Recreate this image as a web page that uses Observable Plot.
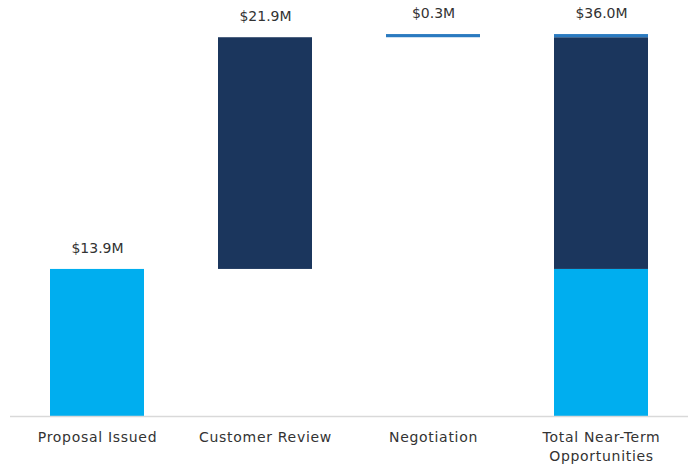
<!DOCTYPE html>
<html>
<head>
<meta charset="utf-8">
<script src="https://cdn.jsdelivr.net/npm/d3@7"></script>
<script src="https://cdn.jsdelivr.net/npm/@observablehq/plot@0.6"></script>
<style>
  html, body { margin: 0; padding: 0; background: #fff; }
  #chart { width: 688px; height: 468px; }
  #chart g[aria-label="x-axis tick label"] text { letter-spacing: 0.7px; }
</style>
</head>
<body>
<div id="chart"></div>
<script>
const categories = ["Proposal Issued", "Customer Review", "Negotiation", "Total Near-Term Opportunities"];
const tickLabels = ["Proposal Issued", "Customer Review", "Negotiation", "Total Near-Term\nOpportunities"];
const stageValues = [13.9, 21.9, 0.3];
const stageColors = ["#00AEEF", "#1B365D", "#2A7AC0"];
const barLabels = ["$13.9M", "$21.9M", "$0.3M", "$36.0M"];

// Build waterfall segments
const segments = [];
let cum = 0;
stageValues.forEach((v, i) => {
  segments.push({cat: categories[i], y1: cum, y2: cum + v, color: stageColors[i]});
  cum += v;
});
// Total bar: stacked segments
let c2 = 0;
stageValues.forEach((v, i) => {
  segments.push({cat: categories[3], y1: c2, y2: c2 + v, color: stageColors[i]});
  c2 += v;
});
const tops = [];
let c3 = 0;
stageValues.forEach((v, i) => { c3 += v; tops.push({cat: categories[i], y: c3, label: barLabels[i]}); });
tops.push({cat: categories[3], y: c3, label: barLabels[3]});

const chart = Plot.plot({
  width: 688,
  height: 468,
  marginTop: 33,
  marginBottom: 52,
  marginLeft: 10,
  marginRight: 0,
  style: {fontFamily: "'DejaVu Sans', sans-serif", fontSize: "13px", color: "#333", background: "#fff"},
  x: {domain: categories, paddingInner: 0.44, paddingOuter: 0.231, label: null},
  y: {domain: [0, 36.2], axis: null},
  marks: [
    Plot.rectY(segments, {x: "cat", y1: "y1", y2: "y2", fill: "color"}),
    Plot.ruleY([0], {stroke: "#d9d9d9", strokeWidth: 1.5}),
    Plot.text(tops, {x: "cat", y: "y", text: "label", dy: -21, fill: "#333", fontSize: 14}),
    Plot.axisX({tickSize: 0, tickPadding: 13, label: null, tickFormat: (d) => tickLabels[categories.indexOf(d)], fontSize: 14, lineHeight: 1.3, fill: "#333"})
  ]
});
document.getElementById("chart").appendChild(chart);
</script>
</body>
</html>
